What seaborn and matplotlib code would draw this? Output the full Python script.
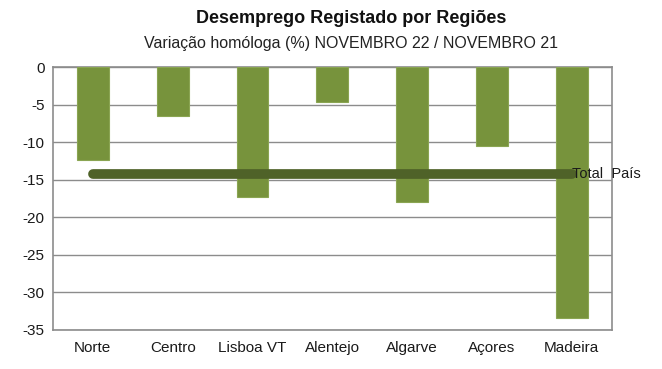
import numpy as np
import pandas as pd
import matplotlib
matplotlib.use("Agg")
import matplotlib.pyplot as plt
import seaborn as sns

# Data
regioes = ["Norte", "Centro", "Lisboa VT", "Alentejo", "Algarve", "Açores", "Madeira"]
variacao = [-12.4, -6.5, -17.3, -4.7, -18.0, -10.5, -33.4]
total_pais = -14.2
yticks = [0, -5, -10, -15, -20, -25, -30, -35]

sns.set_theme(style="white")
plt.rcParams['font.family'] = ['Liberation Sans', 'DejaVu Sans']

df = pd.DataFrame({"Regiao": regioes, "Variacao": variacao})

fig = plt.figure(figsize=(6.62, 3.69), dpi=100)
ax = fig.add_axes([0.080, 0.106, 0.844, 0.712])

sns.barplot(data=df, x="Regiao", y="Variacao", color="#77933c", width=0.4,
            saturation=1, edgecolor="#8aa552", linewidth=0.8, ax=ax, zorder=3)

# Total País line across the categories
ax.plot(regioes, [total_pais] * len(regioes), color="#4f6228", linewidth=7,
        solid_capstyle="round", zorder=4)
ax.text(len(regioes) - 1, total_pais, "Total  País", ha="left", va="center",
        fontsize=10.5, color="#1a1a1a", zorder=5)

ax.set_ylim(-35, 0)
ax.set_xlim(-0.5, len(regioes) - 0.5)
ax.set_yticks(yticks)
ax.set_yticklabels([str(v) for v in yticks], fontsize=11, color="#1a1a1a")
ax.tick_params(axis="x", labelsize=11, labelcolor="#1a1a1a", length=0, pad=8)
ax.tick_params(axis="y", length=0, pad=6)
ax.yaxis.grid(True, color="#8c8c8c", linewidth=1, zorder=0)
ax.set_xlabel("")
ax.set_ylabel("")
for s in ax.spines.values():
    s.set_visible(True)
    s.set_color("#8c8c8c")
    s.set_linewidth(1.2)

fig.text(0.53, 0.95, "Desemprego Registado por Regiões", ha="center", va="center",
         fontsize=13, fontweight="bold", color="#111111")
fig.text(0.53, 0.883, "Variação homóloga (%) NOVEMBRO 22 / NOVEMBRO 21", ha="center",
         va="center", fontsize=11.5, color="#222222")

fig.savefig("out.png", dpi=100)
